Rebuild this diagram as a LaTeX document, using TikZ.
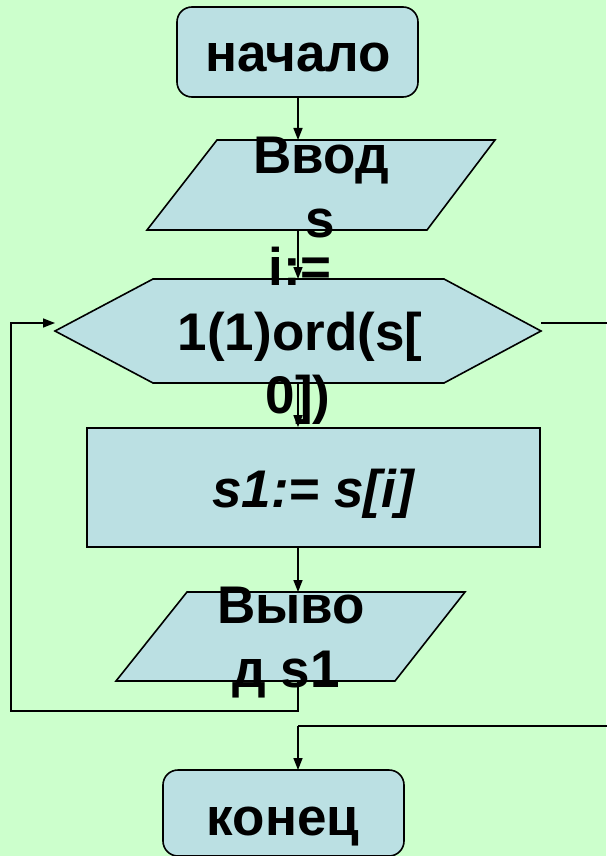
\documentclass[tikz,border=0pt]{standalone}
\usepackage{fontspec}
\setmainfont{Liberation Sans}
\usetikzlibrary{arrows.meta}
\definecolor{bgc}{HTML}{CCFFCC}
\definecolor{boxc}{HTML}{BBE0E3}
\tikzset{
  shapebox/.style={draw=black, fill=boxc, line width=1.6pt, line join=miter},
  lbl/.style={inner sep=0pt, anchor=base, font=\fontsize{53}{64}\selectfont\bfseries},
  conn/.style={draw=black, line width=1.5pt},
  arr/.style={conn, -{Triangle[length=12pt,width=9pt]}}
}
\begin{document}
\begin{tikzpicture}[x=1pt,y=-1pt]
\useasboundingbox (0,0) rectangle (606,856);
\fill[bgc] (0,0) rectangle (606,856);

% start terminal
\node[shapebox, rounded corners=15pt, minimum width=241pt, minimum height=90pt, inner sep=0pt] (start) at (297.5,52) {};
% input parallelogram
\path[shapebox] (217,140) -- (495,140) -- (427,230) -- (147,230) -- cycle;
\coordinate (inpT) at (298,140);
\coordinate (inpB) at (298,230);
% loop hexagon
\path[shapebox] (153,279) -- (444,279) -- (541,331) -- (444,383) -- (153,383) -- (55,331) -- cycle;
\coordinate (hexT) at (298,279);
\coordinate (hexB) at (298,383);
\coordinate (hexW) at (55,323);
\coordinate (hexE) at (541,323);
% process
\node[shapebox, minimum width=453pt, minimum height=119pt, inner sep=0pt] (proc) at (313.5,487.5) {};
% output parallelogram
\path[shapebox] (187,592) -- (465,592) -- (395,681) -- (116,681) -- cycle;
\coordinate (outT) at (298,592);
\coordinate (outB) at (298,681);
% end terminal
\node[shapebox, rounded corners=15pt, minimum width=241pt, minimum height=86pt, inner sep=0pt] (end) at (283.5,813) {};
\coordinate (endT) at (298,770);

% loop-back and exit corners
\coordinate (lb1) at (298,711);
\coordinate (lb2) at (11,711);
\coordinate (lb3) at (11,323);
\coordinate (ex1) at (612,323);
\coordinate (ex2) at (612,726);
\coordinate (ex3) at (298,726);

% connectors
\draw[arr] (298,97) -- (inpT);
\draw[arr] (proc.south -| outT) -- (outT);
\draw[arr] (outB) -- (lb1) -- (lb2) -- (lb3) -- (hexW);
\draw[conn] (hexE) -- (ex1) -- (ex2) -- (ex3);
\draw[arr] (ex3) -- (endT);

% texts
\node[lbl] (t1) at (298,72) {начало};
\node[lbl] (t2a) at (321,173) {Ввод};
\node[lbl] (t2b) at (320,237) {s};
\node[lbl] (t3a) at (300,285) {i:=};
\node[lbl] (t3b) at (300,350) {1(1)ord(s[};
\node[lbl] (t3c) at (298,413) {0])};
\node[lbl, font=\fontsize{53}{64}\selectfont\bfseries\itshape] (t4) at (313,507) {s1:= s[i]};
\node[lbl] (t5a) at (291,623) {Выво};
\node[lbl] (t5b) at (286,687) {д s1};
\node[lbl] (t6) at (283,835) {конец};

% arrows drawn over text where the reference shows them on top
\draw[arr] (inpB) -- (hexT);
\draw[arr] (hexB) -- (proc.north -| hexB);
\end{tikzpicture}
\end{document}
